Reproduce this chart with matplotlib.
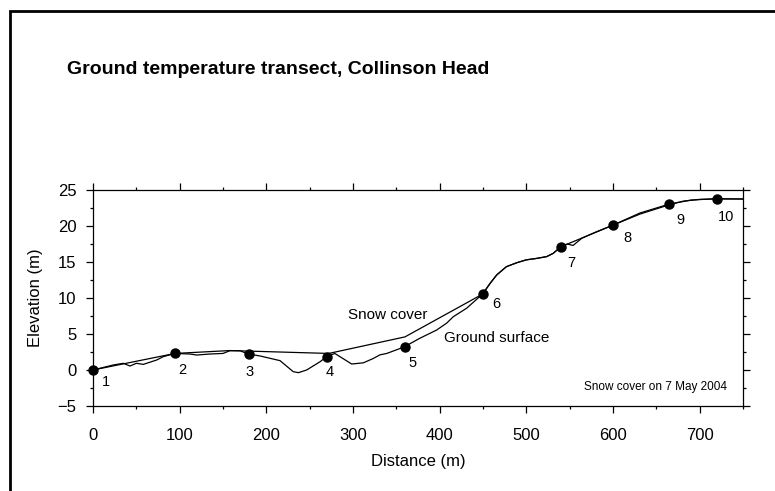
import matplotlib
matplotlib.use("Agg")
import matplotlib.pyplot as plt
from matplotlib import font_manager
from matplotlib.patches import Rectangle
from matplotlib.ticker import MultipleLocator

plt.rcParams['font.family'] = ['Liberation Sans', 'DejaVu Sans']

# ground surface profile (distance m, elevation m)
ground_x = [0, 23.5, 35, 42.7, 50, 58, 73.5, 81, 94.6, 112, 119.6, 135, 150, 158,
            169.6, 179, 192.7, 215.8, 231, 237, 246.5, 262, 269.6, 279, 298.5, 312,
            323.4, 331, 339, 359, 377, 396.5, 408, 415.7, 431, 449.6, 458, 465.8,
            477, 489, 500, 512, 523.5, 531, 539.6, 547, 554, 564, 580, 599.6, 631,
            665, 681, 700, 719.6, 750]
ground_y = [0, 0.7, 0.93, 0.55, 0.93, 0.78, 1.39, 1.85, 2.3, 2.22, 2.08, 2.22, 2.3, 2.68,
            2.68, 2.22, 1.95, 1.3, -0.23, -0.37, 0.0, 1.15, 1.85, 2.3, 0.83, 1.0,
            1.6, 2.1, 2.3, 3.2, 4.4, 5.55, 6.5, 7.4, 8.57, 10.55, 12.0, 13.2,
            14.35, 14.9, 15.3, 15.5, 15.75, 16.2, 17.1, 17.5, 17.3, 18.3, 19.15, 20.1, 21.65,
            22.95, 23.45, 23.7, 23.75, 23.75]

# snow cover surface, 7 May 2004
snow_x = [0, 94.6, 158, 272, 360, 449.6, 458, 465.8, 477, 489, 500, 512, 523.5, 531,
          539.6, 599.6, 631, 665, 690, 719.6, 750]
snow_y = [0, 2.3, 2.7, 2.3, 4.6, 10.55, 12.0, 13.2, 14.35, 14.9, 15.3, 15.5, 15.75, 16.2,
          17.1, 20.1, 21.8, 23.05, 23.6, 23.8, 23.75]

# ground temperature stations
station_x = [0, 94.6, 180, 269.6, 360, 449.6, 539.6, 599.6, 664.6, 719.6]
station_y = [0, 2.3, 2.2, 1.85, 3.2, 10.55, 17.1, 20.1, 23.05, 23.75]
station_names = ['1', '2', '3', '4', '5', '6', '7', '8', '9', '10']
# label offsets in pixels (right, down)
label_offsets = [(13, -12), (7, -17), (1, -18), (3, -15), (8, -16),
                 (14, -10), (11, -16), (15, -13), (11, -16), (9, -18)]

# title looks like a narrow bold face; use it if the system has one
installed = {f.name for f in font_manager.fontManager.ttflist}
if 'Liberation Sans Narrow' in installed:
    title_font, title_size = 'Liberation Sans Narrow', 16
else:
    title_font, title_size = 'Liberation Sans', 14

fig = plt.figure(figsize=(7.75, 4.91), dpi=100)
ax = fig.add_axes([93 / 775, 85 / 491, 650 / 775, 216 / 491])

ax.plot(ground_x, ground_y, color='black', lw=0.9)
ax.plot(snow_x, snow_y, color='black', lw=0.9)
ax.plot(station_x, station_y, 'o', color='black', ms=6.5, clip_on=False, zorder=5)

for x, y, name, off in zip(station_x, station_y, station_names, label_offsets):
    ax.annotate(name, (x, y), xytext=off, textcoords='offset pixels',
                ha='center', va='center', fontsize=10.5)

ax.text(340, 7.6, 'Snow cover', ha='center', va='center', fontsize=11)
ax.text(466, 4.5, 'Ground surface', ha='center', va='center', fontsize=11)
ax.text(731, -2.3, 'Snow cover on 7 May 2004', ha='right', va='center', fontsize=8.5)

ax.set_xlim(0, 750)
ax.set_ylim(-5, 25)
ax.xaxis.set_major_locator(MultipleLocator(100))
ax.xaxis.set_minor_locator(MultipleLocator(50))
ax.yaxis.set_major_locator(MultipleLocator(5))
ax.yaxis.set_minor_locator(MultipleLocator(2.5))
ax.tick_params(which='both', direction='out', top=True, right=True, labelsize=12, width=0.9)
ax.tick_params(which='major', length=5)
ax.tick_params(which='minor', length=2.5)
ax.tick_params(axis='x', pad=11)
ax.tick_params(axis='y', pad=7)
for s in ax.spines.values():
    s.set_linewidth(0.9)

ax.set_xlabel('Distance (m)', fontsize=12, labelpad=8)
ax.set_ylabel('Elevation (m)', fontsize=12, labelpad=10)

fig.text(67 / 775, 1 - 70 / 491, 'Ground temperature transect, Collinson Head',
         family=[title_font, 'DejaVu Sans'], fontsize=title_size, fontweight='bold',
         va='center', ha='left')

fig.patches.append(Rectangle((10 / 775, -0.05), 1.0, 1.05 - 11 / 491, transform=fig.transFigure,
                             fill=False, edgecolor='black', lw=2))

fig.savefig('out.png', dpi=100)
